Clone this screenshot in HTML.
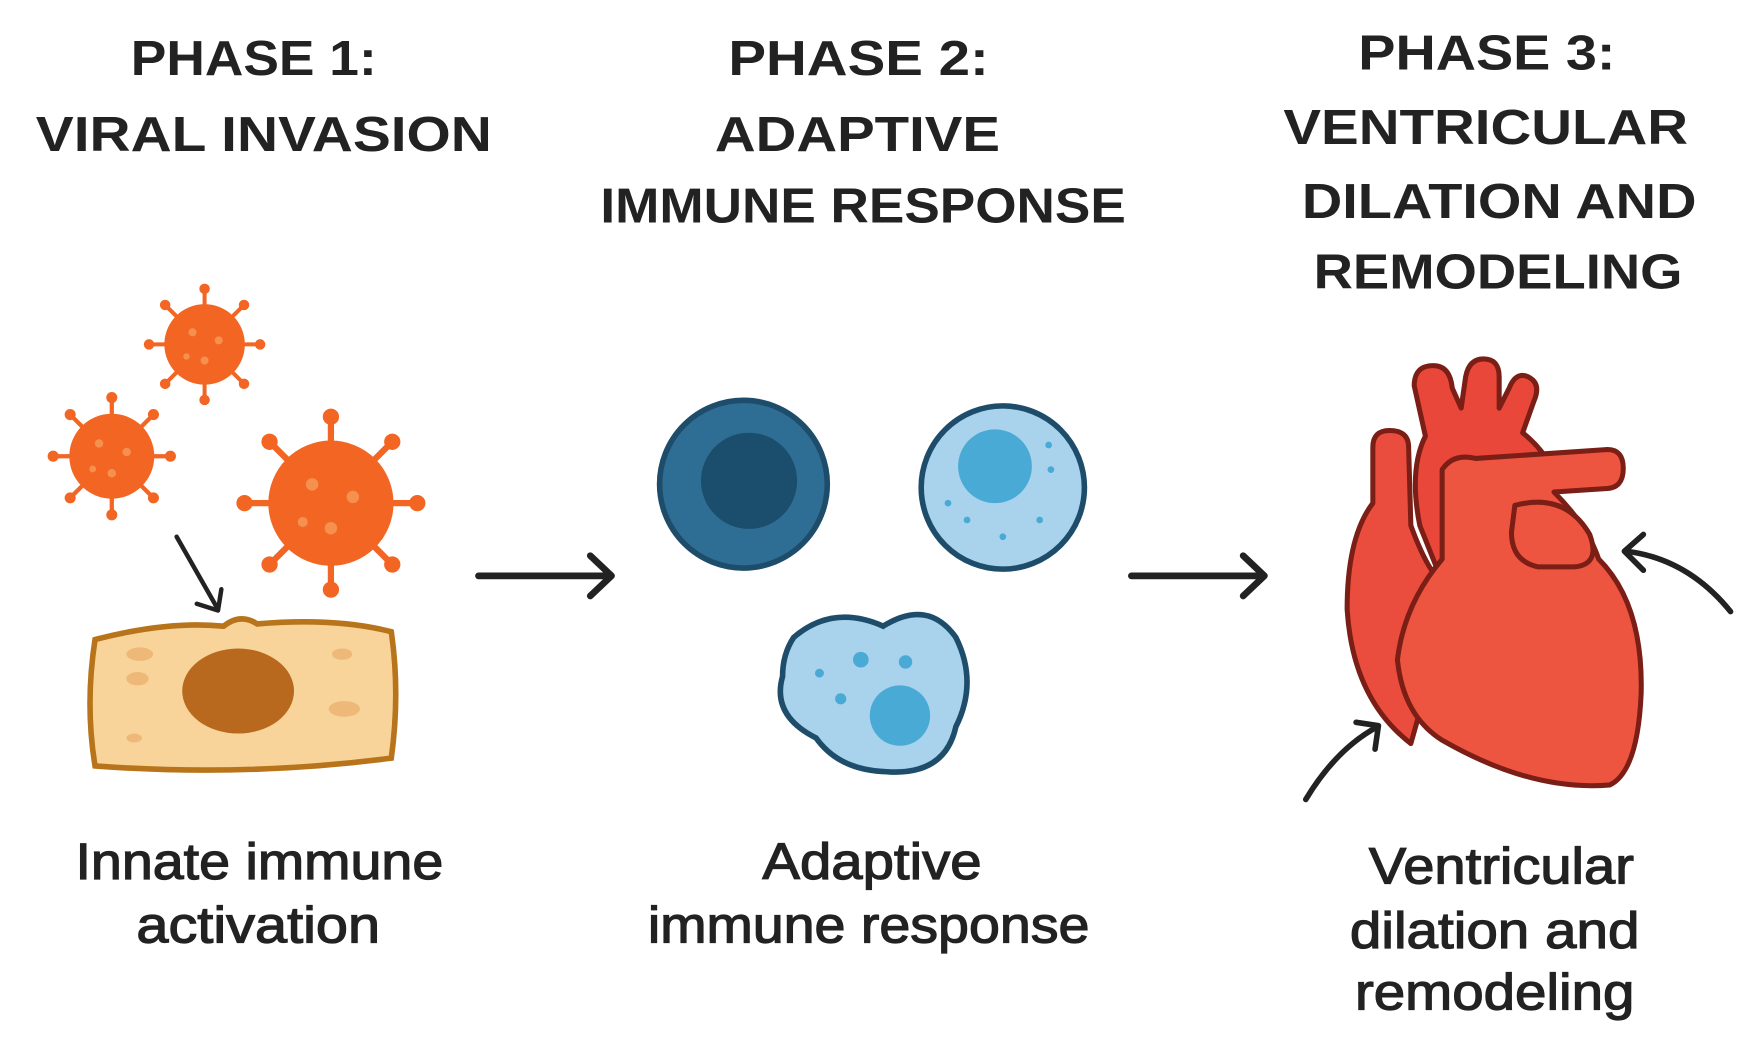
<!DOCTYPE html>
<html><head><meta charset="utf-8"><style>
html,body{margin:0;padding:0;background:#fff;}
svg{display:block;}
.h{font-family:"Liberation Sans",sans-serif;font-weight:bold;font-size:44px;fill:#222;text-anchor:middle;}
.l{font-family:"Liberation Sans",sans-serif;font-size:46px;fill:#222;stroke:#222;stroke-width:1.1px;text-anchor:middle;}
</style></head><body>
<svg width="1744" height="1041" viewBox="0 0 1560 931" preserveAspectRatio="none" xmlns="http://www.w3.org/2000/svg">
<rect width="1560" height="931" fill="#fff"/>
<text class="h" x="227" y="67" textLength="220" lengthAdjust="spacingAndGlyphs">PHASE 1:</text>
<text class="h" x="236" y="135" textLength="408" lengthAdjust="spacingAndGlyphs">VIRAL INVASION</text>
<text class="h" x="768" y="67" textLength="233" lengthAdjust="spacingAndGlyphs">PHASE 2:</text>
<text class="h" x="767" y="135" textLength="255" lengthAdjust="spacingAndGlyphs">ADAPTIVE</text>
<text class="h" x="772" y="199" textLength="470" lengthAdjust="spacingAndGlyphs">IMMUNE RESPONSE</text>
<text class="h" x="1330" y="62" textLength="230" lengthAdjust="spacingAndGlyphs">PHASE 3:</text>
<text class="h" x="1329" y="129" textLength="362" lengthAdjust="spacingAndGlyphs">VENTRICULAR</text>
<text class="h" x="1341" y="195" textLength="353" lengthAdjust="spacingAndGlyphs">DILATION AND</text>
<text class="h" x="1340" y="258" textLength="330" lengthAdjust="spacingAndGlyphs">REMODELING</text>
<text class="l" x="232" y="786" textLength="329" lengthAdjust="spacingAndGlyphs">Innate immune</text>
<text class="l" x="231" y="843" textLength="218" lengthAdjust="spacingAndGlyphs">activation</text>
<text class="l" x="780" y="786" textLength="196" lengthAdjust="spacingAndGlyphs">Adaptive</text>
<text class="l" x="777" y="843" textLength="395" lengthAdjust="spacingAndGlyphs">immune response</text>
<text class="l" x="1343" y="790" textLength="237" lengthAdjust="spacingAndGlyphs">Ventricular</text>
<text class="l" x="1337" y="848" textLength="259" lengthAdjust="spacingAndGlyphs">dilation and</text>
<text class="l" x="1337" y="903" textLength="250" lengthAdjust="spacingAndGlyphs">remodeling</text>
<g stroke="#222" stroke-width="6" fill="none" stroke-linecap="round" stroke-linejoin="round">
<path d="M428,515 H546 M528,497 L547,515 L528,533"/>
<path d="M1012,515 H1130 M1112,497 L1131,515 L1112,533"/>
<path d="M158,480 L195,545 M176,540 L195,546 L198,527" stroke-width="4"/>
<path d="M1548,547 Q1510,500 1455,493 M1470,478 L1453,493 L1470,510" stroke-width="5"/>
<path d="M1168,715 Q1195,670 1232,650 M1213,646 L1233,649 L1230,670" stroke-width="5"/>
</g>
<defs>
<g id="v">
<g stroke="#f26522" stroke-width="0.1" stroke-linecap="round">
<line x1="0" y1="-1" x2="0" y2="-1.35"/><line x1="0" y1="1" x2="0" y2="1.35"/>
<line x1="-1" y1="0" x2="-1.35" y2="0"/><line x1="1" y1="0" x2="1.35" y2="0"/>
<line x1=".7" y1=".7" x2=".95" y2=".95"/><line x1="-.7" y1="-.7" x2="-.95" y2="-.95"/>
<line x1=".7" y1="-.7" x2=".95" y2="-.95"/><line x1="-.7" y1=".7" x2="-.95" y2=".95"/>
</g>
<g fill="#f26522">
<circle r="1"/>
<circle cx="0" cy="-1.38" r=".13"/><circle cx="0" cy="1.38" r=".13"/><circle cx="-1.38" cy="0" r=".13"/><circle cx="1.38" cy="0" r=".13"/>
<circle cx=".98" cy=".98" r=".13"/><circle cx="-.98" cy="-.98" r=".13"/><circle cx=".98" cy="-.98" r=".13"/><circle cx="-.98" cy=".98" r=".13"/>
</g>
<g fill="#f5904f"><circle cx="-.3" cy="-.3" r=".1"/><circle cx=".35" cy="-.1" r=".1"/><circle cx="0" cy=".4" r=".1"/><circle cx="-.45" cy=".3" r=".08"/></g>
</g>
</defs>
<use href="#v" transform="translate(183,308) scale(36)"/>
<use href="#v" transform="translate(100,408) scale(38)"/>
<use href="#v" transform="translate(296,450) scale(56)"/>
<path d="M85,572 Q150,555 200,560 Q215,548 230,558 Q300,552 350,565 Q358,620 350,678 Q220,695 85,685 Q76,630 85,572 Z" fill="#f8d49a" stroke="#b8741a" stroke-width="5"/>
<ellipse cx="213" cy="618" rx="50" ry="38" fill="#b8691e"/>
<g fill="#eeb978"><ellipse cx="125" cy="585" rx="12" ry="6"/><ellipse cx="123" cy="607" rx="10" ry="6"/><ellipse cx="306" cy="585" rx="9" ry="5"/><ellipse cx="308" cy="634" rx="14" ry="7"/><ellipse cx="120" cy="660" rx="7" ry="4"/></g>
<circle cx="665" cy="433" r="75" fill="#2f6e94" stroke="#1e4d6b" stroke-width="5"/>
<circle cx="670" cy="430" r="43" fill="#1b4d6c"/>
<circle cx="897" cy="436" r="73" fill="#a9d3ec" stroke="#1e4d6b" stroke-width="5"/>
<circle cx="890" cy="417" r="33" fill="#4aaad6"/>
<g fill="#4aaad6"><circle cx="938" cy="398" r="3"/><circle cx="940" cy="420" r="3"/><circle cx="930" cy="465" r="3"/><circle cx="897" cy="480" r="3"/><circle cx="865" cy="465" r="3"/><circle cx="848" cy="450" r="3"/></g>
<path d="M710,570 Q745,540 790,560 Q830,535 855,570 Q875,610 855,650 Q845,695 790,690 Q750,688 730,660 Q690,640 700,605 Q700,585 710,570 Z" fill="#a9d3ec" stroke="#1e4d6b" stroke-width="5"/>
<circle cx="805" cy="640" r="27" fill="#4aaad6"/>
<g fill="#4aaad6"><circle cx="770" cy="590" r="7"/><circle cx="810" cy="592" r="6"/><circle cx="733" cy="602" r="4"/><circle cx="752" cy="625" r="5"/></g>
<g stroke="#7a1e16" stroke-width="4.5" stroke-linejoin="round">
<path d="M1265,345 q0,-18 17,-18 q15,0 17,20 l8,18 l4,-28 q3,-16 16,-16 q14,0 14,16 l0,28 l9,-18 q6,-15 17,-10 q12,6 5,22 l-10,28 q25,20 30,45 L1340,470 L1290,520 L1270,470 Q1260,420 1275,390 Z" fill="#e8473a"/>
<path d="M1228,400 q0,-15 15,-15 q17,0 17,15 L1262,470 Q1280,520 1300,530 L1262,665 Q1210,625 1205,545 Q1205,480 1228,450 Z" fill="#ea4c3d"/>
<path d="M1290,420 Q1300,405 1320,410 L1438,402 q14,0 14,17 q0,18 -16,18 L1390,440 Q1420,470 1430,500 Q1470,540 1468,620 Q1465,690 1440,702 Q1370,708 1290,662 Q1255,640 1250,590 Q1256,540 1290,500 Z" fill="#ee5540"/>
<path d="M1355,452 Q1400,440 1422,478 Q1432,505 1408,507 L1376,507 Q1352,502 1352,476 Z" fill="#ee5540"/>
</g>
</svg>
</body></html>
